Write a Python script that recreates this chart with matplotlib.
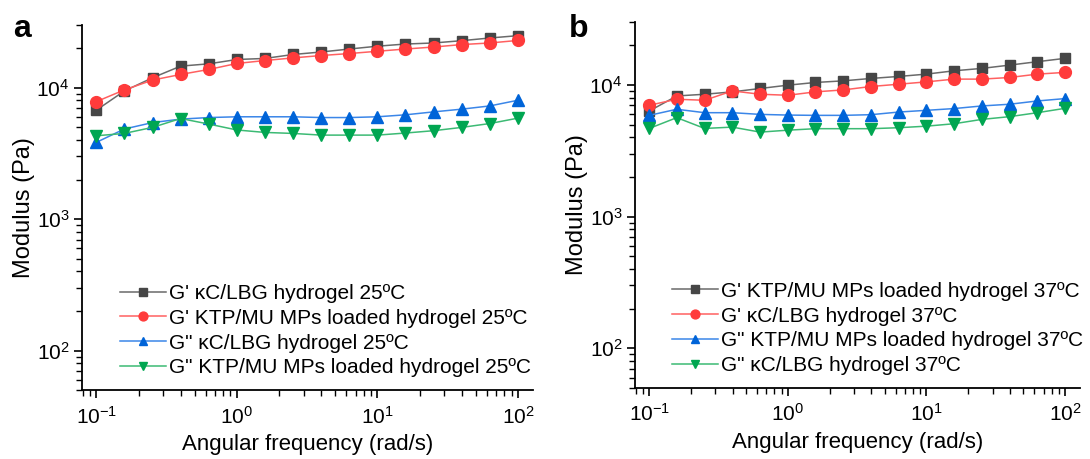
import numpy as np
import matplotlib
matplotlib.use('Agg')
import matplotlib.pyplot as plt
from matplotlib.ticker import LogLocator, NullFormatter

plt.rcParams['font.family'] = ['Liberation Sans', 'DejaVu Sans']
plt.rcParams['mathtext.fontset'] = 'custom'
plt.rcParams['mathtext.rm'] = 'Liberation Sans'
plt.rcParams['mathtext.it'] = 'Liberation Sans:italic'

# angular frequency (rad/s), 5 points per decade
freq = [0.1, 0.158, 0.251, 0.398, 0.631, 1.0, 1.58, 2.51, 3.98, 6.31,
        10.0, 15.8, 25.1, 39.8, 63.1, 100.0]

# panel a, 25 C
a_gp_blank = [6750, 9440, 11900, 14600, 15200, 16400, 16700, 17900, 18700, 19700,
              20700, 21500, 21900, 22800, 23900, 24900]
a_gp_loaded = [7840, 9620, 11430, 12620, 13770, 15300, 16100, 16860, 17580, 18200,
               18940, 19700, 20400, 21300, 21900, 22900]
a_gpp_blank = [3840, 4850, 5430, 5770, 5930, 6010, 6010, 6010, 5930, 5930,
               6010, 6220, 6550, 6870, 7270, 8030]
a_gpp_loaded = [4310, 4490, 4990, 5830, 5290, 4770, 4570, 4490, 4360, 4360,
                4360, 4520, 4710, 4990, 5340, 5870]
labels_a = ["G' \u03baC/LBG hydrogel 25\u00baC",
            "G' KTP/MU MPs loaded hydrogel 25\u00baC",
            'G" \u03baC/LBG hydrogel 25\u00baC',
            'G" KTP/MU MPs loaded hydrogel 25\u00baC']

# panel b, 37 C
b_gp_loaded = [6330, 8240, 8490, 8850, 9390, 9950, 10430, 10730, 11190, 11590,
               12070, 12790, 13340, 14130, 15000, 15900]
b_gp_blank = [7000, 7780, 7640, 9000, 8490, 8340, 8850, 9160, 9720, 10120,
              10540, 11060, 11060, 11380, 12070, 12440]
b_gpp_loaded = [5870, 6530, 6150, 6150, 5970, 5900, 5870, 5870, 5940, 6220,
                6410, 6610, 6920, 7130, 7550, 7870]
b_gpp_blank = [4670, 5640, 4670, 4780, 4380, 4530, 4650, 4650, 4650, 4730,
               4860, 5070, 5470, 5740, 6150, 6640]
labels_b = ["G' KTP/MU MPs loaded hydrogel 37\u00baC",
            "G' \u03baC/LBG hydrogel 37\u00baC",
            'G" KTP/MU MPs loaded hydrogel 37\u00baC',
            'G" \u03baC/LBG hydrogel 37\u00baC']

styles = [
    dict(marker='s', color='#6a6a6a', mfc='#464646', mec='#464646', ms=7.5),
    dict(marker='o', color='#ff6060', mfc='#ff3b3b', mec='#ff3b3b', ms=8.5),
    dict(marker='^', color='#3b86e8', mfc='#0064d8', mec='#0064d8', ms=8.5),
    dict(marker='v', color='#3cba74', mfc='#00a651', mec='#00a651', ms=8.5),
]


def style_axes(ax):
    ax.set_xscale('log')
    ax.set_yscale('log')
    ax.set_xlim(0.079, 128)
    ax.set_ylim(50, 3e4)
    for s in ['top', 'right']:
        ax.spines[s].set_visible(False)
    for s in ['left', 'bottom']:
        ax.spines[s].set_linewidth(1.3)
    ax.xaxis.set_major_locator(LogLocator(base=10, numticks=10))
    ax.xaxis.set_minor_locator(LogLocator(base=10, subs=np.arange(2, 10), numticks=20))
    ax.yaxis.set_major_locator(LogLocator(base=10, numticks=10))
    ax.yaxis.set_minor_locator(LogLocator(base=10, subs=np.arange(2, 10), numticks=20))
    ax.xaxis.set_minor_formatter(NullFormatter())
    ax.yaxis.set_minor_formatter(NullFormatter())
    ax.tick_params(which='major', direction='out', length=6, width=1.2, labelsize=15)
    ax.tick_params(axis='x', which='major', pad=5)
    ax.tick_params(axis='y', which='major', pad=3)
    ax.tick_params(which='minor', direction='out', length=4, width=1.0)
    ax.set_xlabel('Angular frequency (rad/s)', fontsize=16, labelpad=5)
    ax.set_ylabel('Modulus (Pa)', fontsize=17, labelpad=1)


fig = plt.figure(figsize=(10.9, 4.59), dpi=100)
ax1 = fig.add_axes([0.0752, 0.150, 0.4138, 0.7955])
ax2 = fig.add_axes([0.5826, 0.1547, 0.4082, 0.7973])

for ax, series, labels in [
        (ax1, [a_gp_blank, a_gp_loaded, a_gpp_blank, a_gpp_loaded], labels_a),
        (ax2, [b_gp_loaded, b_gp_blank, b_gpp_loaded, b_gpp_blank], labels_b)]:
    for y, st, lab in zip(series, styles, labels):
        ax.plot(freq, y, lw=1.1, label=lab, clip_on=False, **st)
    style_axes(ax)

ax1.legend(loc='lower left', bbox_to_anchor=(0.085, 0.035), frameon=False,
           fontsize=15, handlelength=2.2, handletextpad=0.15, labelspacing=0.28,
           borderpad=0, borderaxespad=0, markerscale=0.75)
ax2.legend(loc='lower left', bbox_to_anchor=(0.083, 0.035), frameon=False,
           fontsize=15, handlelength=2.2, handletextpad=0.15, labelspacing=0.28,
           borderpad=0, borderaxespad=0, markerscale=0.75)

fig.text(0.012, 0.919, 'a', fontsize=23, fontweight='bold')
fig.text(0.522, 0.919, 'b', fontsize=23, fontweight='bold')

fig.savefig('out.png', dpi=100)
